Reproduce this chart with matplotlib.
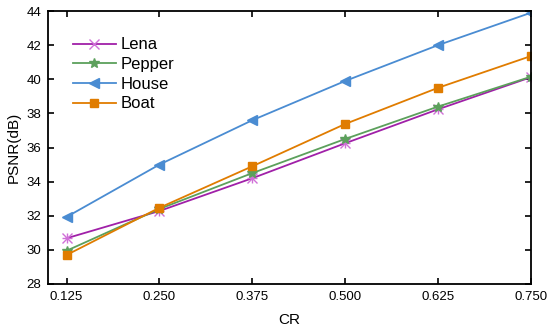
import matplotlib
matplotlib.use("Agg")
import matplotlib.pyplot as plt

# -------------------------
# DATA
# -------------------------
cr = [0.125, 0.250, 0.375, 0.500, 0.625, 0.750]
cr_labels = ["0.125", "0.250", "0.375", "0.500", "0.625", "0.750"]

lena = [30.68, 32.28, 34.2, 36.25, 38.24, 40.12]
pepper = [29.95, 32.4, 34.5, 36.5, 38.4, 40.15]
house = [31.93, 35.0, 37.6, 39.9, 42.0, 43.9]
boat = [29.7, 32.47, 34.9, 37.38, 39.5, 41.36]

plt.rcParams['font.family'] = ['Liberation Sans', 'DejaVu Sans']

# -------------------------
# PLOT
# -------------------------
fig = plt.figure(figsize=(5.5, 3.31), dpi=100)
ax = fig.add_axes([48 / 550, 1 - 284 / 331, (531 - 48) / 550, (284 - 11) / 331])

ax.plot(cr, lena, color="#A020A8", marker="x", markersize=6.5, markeredgecolor="#D070D8",
        markeredgewidth=1.0, linewidth=1.3, label="Lena")
ax.plot(cr, lena, color="#D070D8", marker="+", markersize=6.5, linestyle="none",
        markeredgewidth=1.0)
ax.plot(cr, pepper, color="#5CA05C", marker="*", markersize=7.5, linewidth=1.3, label="Pepper")
ax.plot(cr, house, color="#4A8CD2", marker="<", markersize=6.5, linewidth=1.3, label="House")
ax.plot(cr, boat, color="#E07C00", marker="s", markersize=5.5, linewidth=1.3, label="Boat")

ax.set_xlim(0.1, 0.75)
ax.set_ylim(28, 44)
ax.set_xticks(cr)
ax.set_xticklabels(cr_labels)
ax.set_yticks(range(28, 45, 2))
ax.tick_params(direction="in", top=True, right=True, length=4, width=1.2,
               labelsize=9.5, pad=5)
for s in ax.spines.values():
    s.set_linewidth(1.3)

ax.set_xlabel("CR", fontsize=11, labelpad=7)
ax.set_ylabel("PSNR(dB)", fontsize=11, labelpad=4)

ax.legend(loc="upper left", bbox_to_anchor=(0.02, 0.958), frameon=False,
          fontsize=12, handlelength=2.6, handletextpad=0.3, labelspacing=0.28)

fig.savefig("out.png", dpi=100)
